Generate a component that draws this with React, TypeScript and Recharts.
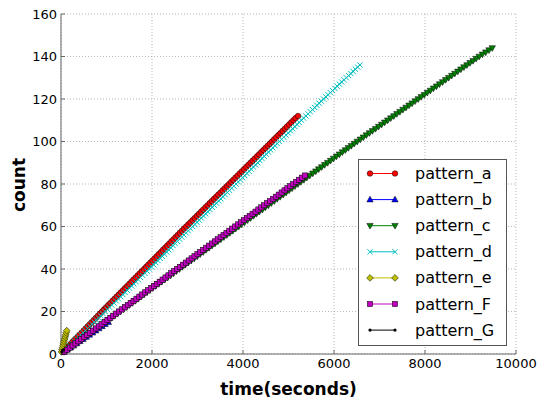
import { LineChart, Line, XAxis, YAxis, CartesianGrid, Legend } from "recharts";

// time (s) at which each count (1, 2, 3, ...) was reached
const TIME_A = [
  40, 88, 131, 178, 224, 268, 315, 361, 404, 452,
  497, 541, 588, 633, 679, 722, 768, 812, 857, 903,
  948, 995, 1041, 1086, 1133, 1178, 1226, 1271, 1318, 1364,
  1410, 1455, 1503, 1549, 1594, 1642, 1688, 1733, 1780, 1827,
  1873, 1918, 1966, 2011, 2058, 2104, 2150, 2197, 2242, 2289,
  2335, 2381, 2428, 2473, 2520, 2566, 2613, 2659, 2705, 2752,
  2799, 2846, 2893, 2940, 2987, 3034, 3081, 3128, 3176, 3222,
  3270, 3317, 3364, 3412, 3458, 3506, 3553, 3600, 3648, 3695,
  3742, 3789, 3836, 3884, 3931, 3978, 4025, 4072, 4120, 4167,
  4214, 4261, 4308, 4355, 4402, 4449, 4496, 4544, 4591, 4638,
  4685, 4732, 4779, 4826, 4873, 4920, 4967, 5014, 5061, 5108, 5155, 5210,
];
const TIME_B = [69, 138, 208, 277, 346, 416, 485, 554, 624, 693, 762, 832, 901, 970, 1040];
const TIME_C = [
  65, 130, 195, 260, 326, 391, 456, 521, 586, 651,
  716, 781, 846, 911, 977, 1042, 1107, 1172, 1237, 1302,
  1367, 1432, 1497, 1562, 1628, 1693, 1758, 1823, 1888, 1953,
  2018, 2083, 2148, 2213, 2279, 2344, 2409, 2474, 2539, 2604,
  2669, 2734, 2799, 2864, 2930, 2995, 3060, 3125, 3190, 3255,
  3320, 3385, 3450, 3515, 3581, 3646, 3711, 3776, 3841, 3906,
  3971, 4036, 4101, 4166, 4232, 4297, 4362, 4427, 4492, 4557,
  4622, 4687, 4752, 4817, 4883, 4948, 5013, 5078, 5143, 5208,
  5273, 5338, 5403, 5468, 5534, 5599, 5664, 5729, 5794, 5859,
  5924, 5989, 6054, 6119, 6185, 6250, 6315, 6380, 6445, 6510,
  6577, 6644, 6711, 6778, 6845, 6912, 6979, 7046, 7113, 7180,
  7247, 7314, 7381, 7448, 7515, 7582, 7649, 7716, 7783, 7850,
  7917, 7984, 8051, 8118, 8185, 8252, 8319, 8386, 8453, 8520,
  8587, 8654, 8721, 8788, 8855, 8922, 8989, 9056, 9123, 9190,
  9262, 9334, 9406, 9478,
];
const TIME_D = [
  47, 96, 145, 193, 242, 290, 339, 388, 436, 485,
  533, 582, 631, 679, 728, 776, 825, 873, 922, 970,
  1019, 1067, 1116, 1164, 1213, 1261, 1310, 1358, 1407, 1455,
  1504, 1552, 1601, 1649, 1698, 1746, 1795, 1843, 1892, 1940,
  1988, 2036, 2083, 2131, 2179, 2226, 2274, 2322, 2369, 2417,
  2465, 2512, 2560, 2608, 2655, 2703, 2751, 2798, 2846, 2894,
  2941, 2989, 3037, 3084, 3132, 3180, 3227, 3275, 3323, 3370,
  3418, 3466, 3513, 3561, 3609, 3656, 3704, 3752, 3799, 3847,
  3895, 3942, 3990, 4038, 4085, 4133, 4181, 4228, 4276, 4324,
  4371, 4419, 4467, 4514, 4562, 4610, 4657, 4705, 4753, 4800,
  4849, 4897, 4946, 4994, 5043, 5091, 5140, 5188, 5237, 5285,
  5334, 5382, 5431, 5479, 5528, 5576, 5625, 5673, 5722, 5770,
  5820, 5870, 5920, 5970, 6020, 6070, 6120, 6170, 6220, 6270,
  6320, 6370, 6420, 6470, 6520, 6570,
];
const TIME_E = [10, 22, 33, 45, 57, 68, 80, 92, 103, 114, 126];
const TIME_F = [
  64, 128, 191, 255, 319, 383, 447, 510, 574, 638,
  702, 766, 829, 893, 957, 1021, 1085, 1148, 1212, 1276,
  1340, 1404, 1467, 1531, 1595, 1659, 1723, 1786, 1850, 1914,
  1978, 2042, 2105, 2169, 2233, 2297, 2361, 2424, 2488, 2552,
  2616, 2680, 2743, 2807, 2871, 2935, 2999, 3062, 3126, 3190,
  3254, 3318, 3381, 3445, 3509, 3573, 3637, 3700, 3764, 3828,
  3892, 3956, 4019, 4083, 4147, 4211, 4275, 4338, 4402, 4466,
  4530, 4594, 4657, 4721, 4785, 4849, 4913, 4976, 5040, 5104,
  5168, 5232, 5296, 5360,
];
const TIME_G = [20, 55];

const SERIES_NAMES = ["pattern_a", "pattern_b", "pattern_c", "pattern_d", "pattern_e", "pattern_F", "pattern_G"];
const SERIES_TIMES = [TIME_A, TIME_B, TIME_C, TIME_D, TIME_E, TIME_F, TIME_G];

const X_TICKS = [0, 2000, 4000, 6000, 8000, 10000];
const Y_TICKS = [0, 20, 40, 60, 80, 100, 120, 140, 160];

// matplotlib classic colours + marker per series
const COLORS = ["#ff0000", "#0000ff", "#008000", "#00bfbf", "#bfbf00", "#bf00bf", "#000000"];
const SHAPES = ["circle", "triUp", "triDown", "x", "diamond", "square", "point"];

const FONT = "DejaVu Sans";
const FRAME = "#666";

function Marker({ shape, cx, cy, color }: { shape: string; cx: number; cy: number; color: string }) {
  if (cx == null || cy == null) return null;
  const edge = { stroke: "#000", strokeWidth: 0.5 };
  switch (shape) {
    case "circle":
      return <circle cx={cx} cy={cy} r={2.8} fill={color} {...edge} />;
    case "triUp":
      return <polygon points={`${cx},${cy - 3.4} ${cx - 3.2},${cy + 2.3} ${cx + 3.2},${cy + 2.3}`} fill={color} {...edge} />;
    case "triDown":
      return <polygon points={`${cx},${cy + 3.4} ${cx - 3.2},${cy - 2.3} ${cx + 3.2},${cy - 2.3}`} fill={color} {...edge} />;
    case "x":
      return (
        <path
          d={`M${cx - 2.6},${cy - 2.6}L${cx + 2.6},${cy + 2.6}M${cx - 2.6},${cy + 2.6}L${cx + 2.6},${cy - 2.6}`}
          stroke={color}
          strokeWidth={1}
          fill="none"
        />
      );
    case "diamond":
      return <polygon points={`${cx},${cy - 3.4} ${cx + 3.4},${cy} ${cx},${cy + 3.4} ${cx - 3.4},${cy}`} fill={color} {...edge} />;
    case "square":
      return <rect x={cx - 2.6} y={cy - 2.6} width={5.2} height={5.2} fill={color} {...edge} />;
    default:
      return <circle cx={cx} cy={cy} r={1.6} fill={color} />;
  }
}

function LegendBox() {
  return (
    <div style={{ width: 149, height: 187, border: "1px solid #555", background: "#fff", boxSizing: "border-box" }}>
      <svg width={147} height={185}>
        {SERIES_NAMES.map((name, i) => {
          const y = 13.5 + i * 26.1;
          return (
            <g key={name}>
              <line x1={11} x2={36} y1={y} y2={y} stroke={COLORS[i]} strokeWidth={1} />
              <Marker shape={SHAPES[i]} cx={11} cy={y} color={COLORS[i]} />
              <Marker shape={SHAPES[i]} cx={36} cy={y} color={COLORS[i]} />
              <text x={56} y={y} dominantBaseline="central" fontSize={16} fontFamily={FONT} fill="#000">
                {name}
              </text>
            </g>
          );
        })}
      </svg>
    </div>
  );
}

export default function App() {
  const tick = { fill: "#000", fontSize: 13, fontFamily: FONT };

  return (
    <div style={{ position: "absolute", left: 0, top: 0, background: "#fff" }}>
      <LineChart width={537} height={402} margin={{ top: 14, right: 21, left: 0, bottom: 0 }} style={{ fontFamily: FONT }}>
        <CartesianGrid stroke="#9a9a9a" strokeWidth={0.7} strokeDasharray="1 2" />
        <XAxis
          type="number"
          dataKey="time"
          domain={[0, 10000]}
          ticks={X_TICKS}
          interval={0}
          height={48}
          tick={tick}
          tickSize={-4}
          tickMargin={9}
          stroke={FRAME}
          label={{ value: "time(seconds)", position: "insideBottom", offset: 7, fill: "#000", fontSize: 17, fontWeight: "bold", fontFamily: FONT }}
        />
        <YAxis
          type="number"
          dataKey="count"
          domain={[0, 160]}
          ticks={Y_TICKS}
          interval={0}
          width={61}
          tick={tick}
          tickSize={-4}
          tickMargin={8}
          stroke={FRAME}
          label={{
            content: () => (
              <text x={19} y={185} transform="rotate(-90 19 185)" textAnchor="middle" dominantBaseline="central" fontSize={17} fontWeight="bold" fontFamily={FONT} fill="#000">
                count
              </text>
            ),
          }}
        />
        <XAxis xAxisId="top" orientation="top" type="number" domain={[0, 10000]} ticks={X_TICKS} height={0} tick={false} tickSize={-4} stroke={FRAME} />
        <YAxis yAxisId="right" orientation="right" type="number" domain={[0, 160]} ticks={Y_TICKS} width={0} tick={false} tickSize={-4} stroke={FRAME} />
        {SERIES_NAMES.map((name, i) => (
          <Line
            key={name}
            name={name}
            data={SERIES_TIMES[i].map((t, k) => ({ time: t, count: k + 1 }))}
            dataKey="count"
            stroke={COLORS[i]}
            strokeWidth={1}
            dot={(p: any) => <Marker key={`${name}-${p.index}`} shape={SHAPES[i]} cx={p.cx} cy={p.cy} color={COLORS[i]} />}
            activeDot={false}
            isAnimationActive={false}
          />
        ))}
        <Legend
          content={() => <LegendBox />}
          layout="horizontal"
          align="center"
          verticalAlign="middle"
          wrapperStyle={{ left: 358, top: 159, width: 149, height: 187 }}
        />
      </LineChart>
    </div>
  );
}
